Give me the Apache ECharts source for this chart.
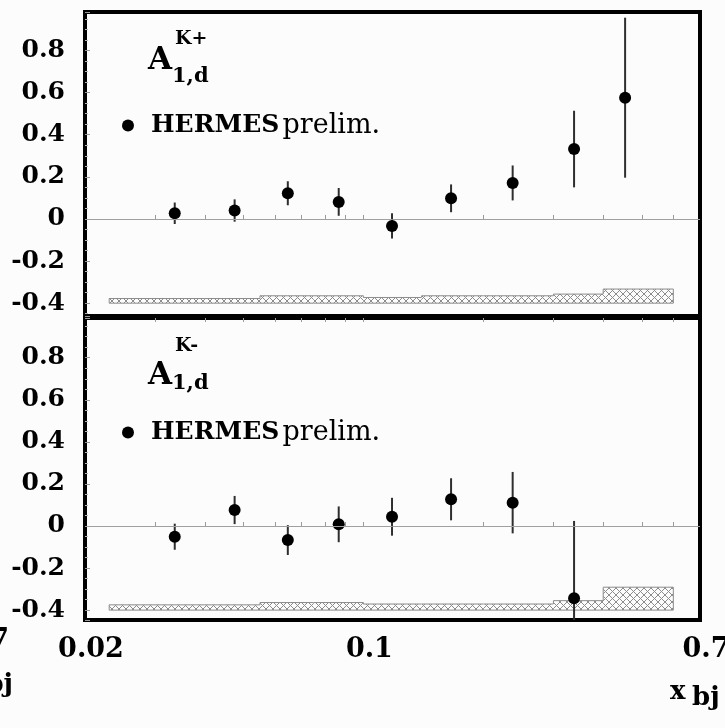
<!DOCTYPE html>
<html>
<head>
<meta charset="utf-8">
<script src="https://cdn.jsdelivr.net/npm/echarts@6/dist/echarts.min.js"></script>
<style>
  html, body { margin: 0; padding: 0; background: #fcfcfc; }
  #chart { width: 725px; height: 728px; }
</style>
</head>
<body>
<div id="chart"></div>
<script>
// Bin centres in x_bj
const xBins = [0.0336, 0.0475, 0.0646, 0.0867, 0.118, 0.166, 0.237, 0.338, 0.454];

// A_1,d for K+ with statistical errors
const a1dKplus = [0.027, 0.040, 0.122, 0.081, -0.033, 0.098, 0.171, 0.332, 0.576];
const errKplus = [0.051, 0.053, 0.057, 0.066, 0.060, 0.066, 0.083, 0.182, 0.380];

// A_1,d for K- with statistical errors (no value in the highest bin)
const a1dKminus = [-0.051, 0.076, -0.067, 0.008, 0.044, 0.127, 0.111, -0.344];
const errKminus = [0.062, 0.067, 0.071, 0.085, 0.090, 0.100, 0.146, 0.368];

// Systematic uncertainty bands: bin edges, band heights, band base line
const binEdges = [0.023, 0.04, 0.055, 0.075, 0.1, 0.14, 0.2, 0.3, 0.4, 0.6];
const sysKplus = [0.022, 0.022, 0.035, 0.035, 0.027, 0.035, 0.035, 0.043, 0.067];
const sysKminus = [0.025, 0.025, 0.036, 0.036, 0.029, 0.029, 0.029, 0.045, 0.109];
const sysBase = -0.40;

// Axis ticks
const xMinorTicks = [0.03, 0.04, 0.05, 0.06, 0.07, 0.08, 0.09, 0.1, 0.2, 0.3, 0.4, 0.5, 0.6];
const xLabelTicks = [0.02, 0.1, 0.7];
const xRange = [0.02, 0.7];
const yRangeTop = [-0.461, 0.983];
const yRangeBottom = [-0.447, 0.989];

const serif = '"DejaVu Serif", "Liberation Serif", serif';
const hatchLine = '#8c8c8c';

function makeHatch() {
  const c = document.createElement('canvas');
  c.width = 7; c.height = 7;
  const g = c.getContext('2d');
  g.fillStyle = '#fcfcfc';
  g.fillRect(0, 0, 7, 7);
  g.strokeStyle = hatchLine;
  g.lineWidth = 1;
  g.beginPath();
  g.moveTo(0, 0); g.lineTo(7, 7);
  g.moveTo(7, 0); g.lineTo(0, 7);
  g.stroke();
  return c;
}
const hatch = makeHatch();

function bandData(heights) {
  return heights.map((h, i) => [binEdges[i], binEdges[i + 1], h]);
}
function pointData(ys) {
  return ys.map((y, i) => [xBins[i], y]);
}
function errData(ys, es) {
  return ys.map((y, i) => [xBins[i], y, es[i]]);
}

// Hatched histogram band: each bin is filled, the outline is drawn as one
// step contour (no inner edges between bins of equal height).
function bandRenderer(heights) {
  return function (params, api) {
    const i = params.dataIndex;
    const x0 = api.value(0), x1 = api.value(1), h = api.value(2);
    const b0 = api.coord([x0, sysBase]);
    const t1 = api.coord([x1, sysBase + h]);
    const prevH = i > 0 ? heights[i - 1] : 0;
    const tPrev = api.coord([x0, sysBase + prevH]);
    const line = { stroke: hatchLine, lineWidth: 1 };
    const children = [
      {
        type: 'rect',
        shape: { x: b0[0], y: t1[1], width: t1[0] - b0[0], height: b0[1] - t1[1] },
        style: { fill: { type: 'pattern', image: hatch, repeat: 'repeat' } }
      },
      { type: 'line', shape: { x1: b0[0], y1: t1[1], x2: t1[0], y2: t1[1] }, style: line },
      { type: 'line', shape: { x1: b0[0], y1: b0[1], x2: t1[0], y2: b0[1] }, style: line }
    ];
    if (prevH !== h) {
      children.push({ type: 'line', shape: { x1: b0[0], y1: tPrev[1], x2: b0[0], y2: t1[1] }, style: line });
    }
    if (i === heights.length - 1) {
      children.push({ type: 'line', shape: { x1: t1[0], y1: b0[1], x2: t1[0], y2: t1[1] }, style: line });
    }
    return { type: 'group', children };
  };
}

function renderErr(params, api) {
  const x = api.value(0), y = api.value(1), e = api.value(2);
  const hi = api.coord([x, y + e]);
  const lo = api.coord([x, y - e]);
  const cs = params.coordSys;
  const y0 = Math.max(hi[1], cs.y);
  const y1 = Math.min(lo[1], cs.y + cs.height);
  return {
    type: 'line',
    shape: { x1: hi[0], y1: y0, x2: hi[0], y2: y1 },
    style: { stroke: '#2e2e2e', lineWidth: 2 }
  };
}

function yLabel(v) {
  const k = v * 5;
  if (Math.abs(k - Math.round(k)) > 1e-6) return '';
  const r = Math.round(k) / 5;
  return r === 0 ? '0' : String(r);
}

function yAxisFor(gridIndex, range) {
  return {
    type: 'value', gridIndex, min: range[0], max: range[1], splitNumber: 7,
    axisLine: { show: false },
    splitLine: { show: false },
    axisTick: { show: true, inside: true, length: 5, lineStyle: { color: '#9a9a9a', width: 1 } },
    minorTick: { show: true, splitNumber: 4, length: 3, lineStyle: { color: '#b5b5b5', width: 1 } },
    axisLabel: {
      show: true, margin: 20, formatter: yLabel,
      fontFamily: serif, fontWeight: 'bold', fontSize: 25, color: '#000',
      showMinLabel: true, showMaxLabel: true
    }
  };
}

function xAxisFor(gridIndex, position, showLabels) {
  return {
    type: 'log', logBase: 10, gridIndex, position, min: xRange[0], max: xRange[1],
    axisLine: { show: false },
    splitLine: { show: false },
    minorTick: { show: false },
    axisTick: {
      show: true, inside: true, length: 4, customValues: xMinorTicks,
      lineStyle: { color: '#9a9a9a', width: 1 }
    },
    axisLabel: {
      show: showLabels, margin: 16, padding: [0, 0, 0, 12],
      fontFamily: serif, fontWeight: 'bold', fontSize: 27, color: '#000',
      customValues: xLabelTicks,
      formatter: v => String(Math.round(v * 100) / 100)
    }
  };
}

function panelSeries(name, idx, ys, es, sys) {
  return [
    {
      type: 'custom', xAxisIndex: idx, yAxisIndex: idx, silent: true, z: 1,
      renderItem: bandRenderer(sys), encode: { x: [0, 1], y: 2 }, data: bandData(sys)
    },
    {
      type: 'custom', xAxisIndex: idx, yAxisIndex: idx, silent: true, z: 3,
      renderItem: renderErr, encode: { x: 0, y: 1 }, data: errData(ys, es)
    },
    {
      name, type: 'scatter', xAxisIndex: idx, yAxisIndex: idx, z: 4,
      symbol: 'circle', symbolSize: 12, itemStyle: { color: '#000', opacity: 1 },
      data: pointData(ys),
      markLine: {
        silent: true, symbol: 'none', label: { show: false },
        lineStyle: { color: '#a0a0a0', width: 1, type: 'solid' },
        data: [{ yAxis: 0 }]
      }
    }
  ];
}

function legendFor(seriesName, top) {
  return {
    data: [seriesName], left: 122, top, padding: 0, orient: 'vertical',
    icon: 'circle', itemWidth: 12, itemHeight: 12, selectedMode: false,
    itemStyle: { opacity: 1 },
    formatter: () => '{b|HERMES} {n|prelim.}',
    textStyle: {
      rich: {
        b: { fontFamily: serif, fontWeight: 'bold', fontSize: 25, color: '#000', padding: [0, 0, 0, 12] },
        n: { fontFamily: serif, fontWeight: 'normal', fontSize: 27, color: '#000' }
      }
    }
  };
}

function txt(text, x, y, size, weight, align) {
  return {
    type: 'text', x, y, silent: true,
    style: {
      text, fill: '#000', align: align || 'left', verticalAlign: 'middle',
      font: (weight || 'bold') + ' ' + size + 'px ' + serif
    }
  };
}

const nameKplus = 'HERMES prelim. K+';
const nameKminus = 'HERMES prelim. K-';

const option = {
  backgroundColor: '#fcfcfc',
  animation: false,
  grid: [
    { left: 85, right: 25, top: 12, height: 304, show: true, borderColor: '#000', borderWidth: 4, backgroundColor: 'transparent', outerBoundsMode: 'none' },
    { left: 85, right: 25, top: 318, height: 302, show: true, borderColor: '#000', borderWidth: 4, backgroundColor: 'transparent', outerBoundsMode: 'none' }
  ],
  xAxis: [
    xAxisFor(0, 'bottom', false),
    xAxisFor(1, 'bottom', true),
    xAxisFor(1, 'top', false)
  ],
  yAxis: [yAxisFor(0, yRangeTop), yAxisFor(1, yRangeBottom)],
  legend: [legendFor(nameKplus, 112), legendFor(nameKminus, 419)],
  series: [
    ...panelSeries(nameKplus, 0, a1dKplus, errKplus, sysKplus),
    ...panelSeries(nameKminus, 1, a1dKminus, errKminus, sysKminus)
  ],
  graphic: [
    // panel titles A^{K+}_{1,d} and A^{K-}_{1,d}
    txt('A', 148, 61, 31),
    txt('K+', 175, 39, 19),
    txt('1,d', 172, 77, 21),
    txt('A', 148, 376, 31),
    txt('K-', 175, 346, 19),
    txt('1,d', 172, 384, 21),
    // x-axis title
    txt('x', 670, 692, 26),
    txt('bj', 692, 698, 26),
    // labels of the neighbouring panel, cut by the left edge
    txt('0.7', 9, 641, 27, 'bold', 'right'),
    txt('bj', 13, 685, 26, 'bold', 'right')
  ]
};

const chart = echarts.init(document.getElementById('chart'));
chart.setOption(option);
</script>
</body>
</html>
